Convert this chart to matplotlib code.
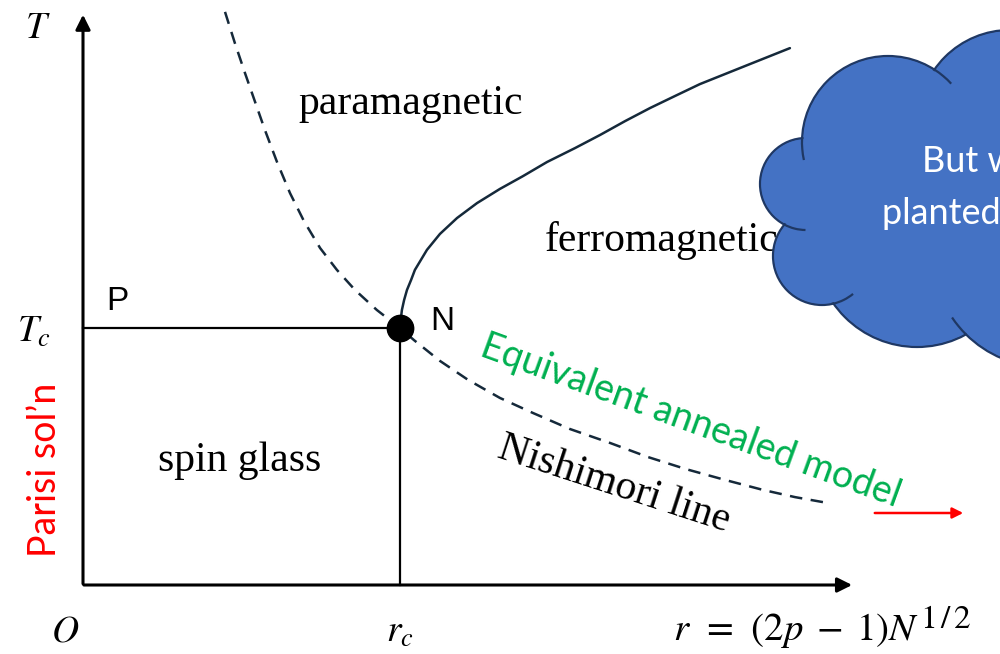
import numpy as np
import matplotlib
matplotlib.use('Agg')
import matplotlib.pyplot as plt
import matplotlib.transforms as mtransforms
from matplotlib.patches import Circle, Arc

plt.rcParams['mathtext.fontset'] = 'stix'

# phase boundaries, in units of r_c and T_c
nish_r = [0.448, 0.479, 0.511, 0.543, 0.574, 0.612, 0.653, 0.697, 0.748, 0.801,
          0.858, 0.927, 1.000, 1.044, 1.126, 1.215, 1.315, 1.420, 1.536, 1.662,
          1.782, 1.902, 2.025, 2.145, 2.246, 2.350]
nish_T = [2.230, 2.109, 1.992, 1.879, 1.770, 1.646, 1.525, 1.416, 1.311, 1.226,
          1.148, 1.070, 1.000, 0.953, 0.872, 0.798, 0.728, 0.669, 0.607, 0.553,
          0.498, 0.451, 0.409, 0.370, 0.342, 0.319]

ferro_r = [1.000, 1.003, 1.006, 1.013, 1.022, 1.035, 1.047, 1.066, 1.085, 1.126,
           1.180, 1.243, 1.315, 1.388, 1.464, 1.552, 1.631, 1.710, 1.789, 1.868,
           1.946, 2.025, 2.104, 2.167, 2.230]
ferro_T = [1.000, 1.039, 1.070, 1.109, 1.148, 1.187, 1.226, 1.265, 1.304, 1.366,
           1.428, 1.486, 1.541, 1.591, 1.646, 1.700, 1.751, 1.805, 1.856, 1.903,
           1.949, 1.988, 2.027, 2.058, 2.089]

r_c = 1.0
T_c = 1.0
r_max = 2.435
T_max = 2.23

W, H, DPI = 1000, 654, 100
fig = plt.figure(figsize=(W / DPI, H / DPI), dpi=DPI)
ax = fig.add_axes([0, 0, 1, 1])
ax.set_xlim(-83 / 317, (W - 83) / 317)
ax.set_ylim((585 - H) / 257, 585 / 257)
ax.axis('off')

# pixel transform (origin top-left) for labels and the cloud
pix = mtransforms.Affine2D().scale(1, -1).translate(0, H).scale(1 / DPI) + fig.dpi_scale_trans

line_col = '#15293a'

# axes with arrows
ax.annotate('', xy=(0, T_max), xytext=(0, -0.006),
            arrowprops=dict(arrowstyle='-|>', color='black', lw=2.2, mutation_scale=22))
ax.annotate('', xy=(r_max, 0), xytext=(-0.006, 0),
            arrowprops=dict(arrowstyle='-|>', color='black', lw=2.2, mutation_scale=22))

# T_c and r_c lines
ax.plot([0, r_c], [T_c, T_c], color='black', lw=1.6)
ax.plot([r_c, r_c], [0, T_c], color='black', lw=1.6)

# curves
ax.plot(nish_r, nish_T, color=line_col, lw=1.8, dashes=(5, 3.4))
ax.plot(ferro_r, ferro_T, color=line_col, lw=1.8, solid_capstyle='round')
ax.plot([r_c], [T_c], 'o', color='black', ms=19, zorder=5)

# red arrow
ax.annotate('', xy=(966, 513), xytext=(872, 513), xycoords=pix, textcoords=pix,
            arrowprops=dict(arrowstyle='-|>', color='red', lw=1.8, mutation_scale=16))

# region labels
serif = 'Liberation Serif'
ax.text(411, 104, 'paramagnetic', transform=pix, fontsize=30, family=serif, ha='center', va='center')
ax.text(545, 240, 'ferromagnetic', transform=pix, fontsize=30, family=serif, ha='left', va='center')
ax.text(240, 461, 'spin glass', transform=pix, fontsize=30, family=serif, ha='center', va='center')
ax.text(614, 485, 'Nishimori line', transform=pix, fontsize=30, family=serif,
        ha='center', va='center', rotation=-18, rotation_mode='anchor')
ax.text(691, 421, 'Equivalent annealed model', transform=pix, fontsize=27, family='Lato',
        color='#00b050', ha='center', va='center', rotation=-20, rotation_mode='anchor')
ax.text(45, 470, 'Parisi sol\u2019n', transform=pix, fontsize=27, family='Lato',
        color='red', ha='center', va='center', rotation=90)

# point labels
ax.text(117, 301, 'P', transform=pix, fontsize=24, family='Liberation Sans', ha='center', va='center')
ax.text(442, 321, 'N', transform=pix, fontsize=24, family='Liberation Sans', ha='center', va='center')

# axis labels
ax.text(38, 28, '$T$', transform=pix, fontsize=27, ha='center', va='center')
ax.text(34, 332, '$T_c$', transform=pix, fontsize=27, ha='center', va='center')
ax.text(65, 632, '$O$', transform=pix, fontsize=27, ha='center', va='center')
ax.text(400, 632, '$r_c$', transform=pix, fontsize=27, ha='center', va='center')
rlab = ax.text(673, 630, r'$r\;\,=\;\,(2p\;-\;1)N$', transform=pix, fontsize=28,
               ha='left', va='center')
ax.annotate(r'$1\,/\,2$', xy=(1, 1), xycoords=rlab, xytext=(1, 6), textcoords='offset points',
            fontsize=24, ha='left', va='top')

# cloud callout
blue = '#4472c4'
edge = '#1f3864'
lobes = [(888, 142, 86), (1010, 122, 92), (806, 184, 46), (822, 256, 49),
         (917, 245, 102), (1045, 255, 112), (900, 200, 90)]
for cx, cy, rad in lobes[:-1]:
    ax.add_patch(Circle((cx, cy), rad, transform=pix, facecolor=blue,
                        edgecolor=edge, lw=1.6, zorder=6))
for cx, cy, rad in lobes:
    ax.add_patch(Circle((cx, cy), rad - 1.5, transform=pix, facecolor=blue,
                        edgecolor='none', zorder=7))


def hook(a, b, length=22):
    # short arc of lobe a running on inside lobe b, as in the cloud shape
    x1, y1, r1 = a
    x2, y2, r2 = b
    d = np.hypot(x2 - x1, y2 - y1)
    u = np.array([x2 - x1, y2 - y1]) / d
    p = np.array([-u[1], u[0]])
    s = (r1 ** 2 - r2 ** 2 + d ** 2) / (2 * d)
    h = np.sqrt(r1 ** 2 - s ** 2)
    base = np.array([x1, y1]) + s * u
    cands = [base + h * p, base - h * p]
    pt = max(cands, key=lambda q: np.hypot(q[0] - 900, q[1] - 210))
    th = np.degrees(np.arctan2(pt[1] - y1, pt[0] - x1))
    dth = np.degrees(length / r1)
    mid = np.radians(th + dth / 2)
    inside = np.hypot(x1 + r1 * np.cos(mid) - x2, y1 + r1 * np.sin(mid) - y2) < r2
    t1, t2 = (th, th + dth) if inside else (th - dth, th)
    ax.add_patch(Arc((x1, y1), 2 * r1, 2 * r1, theta1=t1, theta2=t2, transform=pix,
                     color=edge, lw=1.6, zorder=7.5))


hook(lobes[0], lobes[1])
hook(lobes[0], lobes[2])
hook(lobes[2], lobes[3])
hook(lobes[3], lobes[4])
hook(lobes[5], lobes[4])

ax.text(922, 162, 'But what about', transform=pix, fontsize=26, family='Lato',
        color='white', ha='left', va='center', zorder=8)
ax.text(882, 214, 'planted model?', transform=pix, fontsize=26, family='Lato',
        color='white', ha='left', va='center', zorder=8)

fig.savefig('out.png', dpi=DPI)
